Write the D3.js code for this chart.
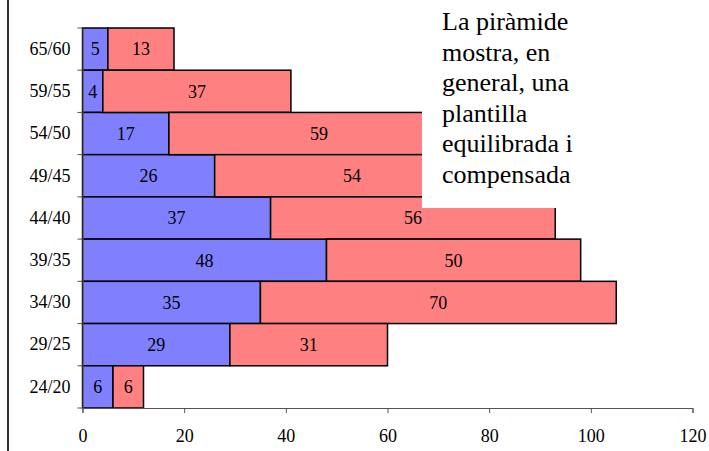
<!DOCTYPE html>
<html><head><meta charset="utf-8">
<script src="https://cdn.jsdelivr.net/npm/d3@7"></script>
<style>body{margin:0;background:#fff}svg{display:block}</style>
</head><body>
<script>
const categories = ["65/60","59/55","54/50","49/45","44/40","39/35","34/30","29/25","24/20"];
const blueValues = [5,4,17,26,37,48,35,29,6];
const redValues = [13,37,59,54,56,50,70,31,6];
const xTicks = [0,20,40,60,80,100,120];
const noteLines = ["La piràmide","mostra, en","general, una","plantilla","equilibrada i","compensada"];

const FONT="'Liberation Serif','Times New Roman',Times,serif";
const W=709,H=451;
const svg=d3.select("body").append("svg").attr("width",W).attr("height",H).attr("font-family",FONT);
const x=d3.scaleLinear().domain([0,120]).range([82.5,692.5]);
const y=d3.scaleBand().domain(categories).range([28,408]).padding(0);

svg.append("line").attr("x1",8).attr("x2",8).attr("y1",0).attr("y2",H).attr("stroke","#333").attr("stroke-width",2);

const rows=categories.map((c,i)=>({c,b:blueValues[i],r:redValues[i]}));
const g=svg.append("g");
g.selectAll("rect.b").data(rows).join("rect").attr("class","b")
 .attr("x",x(0)).attr("y",d=>y(d.c)).attr("width",d=>x(d.b)-x(0)).attr("height",y.bandwidth())
 .attr("fill","#8080ff").attr("stroke","#000").attr("stroke-width",1.5);
g.selectAll("rect.r").data(rows).join("rect").attr("class","r")
 .attr("x",d=>x(d.b)).attr("y",d=>y(d.c)).attr("width",d=>x(d.b+d.r)-x(d.b)).attr("height",y.bandwidth())
 .attr("fill","#ff8080").attr("stroke","#000").attr("stroke-width",1.5);
g.selectAll("text.bl").data(rows).join("text").attr("class","bl")
 .attr("x",d=>(x(0)+x(d.b))/2).attr("y",d=>y(d.c)+y.bandwidth()/2).attr("dy","0.35em")
 .attr("text-anchor","middle").attr("font-size",18).attr("font-family",FONT).text(d=>d.b);
g.selectAll("text.rl").data(rows).join("text").attr("class","rl")
 .attr("x",d=>(x(d.b)+x(d.b+d.r))/2).attr("y",d=>y(d.c)+y.bandwidth()/2).attr("dy","0.35em")
 .attr("text-anchor","middle").attr("font-size",18).attr("font-family",FONT).text(d=>d.r);

const xa=svg.append("g").attr("transform","translate(0,408)")
 .call(d3.axisBottom(x).tickValues(xTicks).tickSize(5).tickPadding(16).tickFormat(d3.format("d")));
xa.select(".domain").attr("stroke","#555");
xa.selectAll(".tick line").attr("stroke","#555");
xa.selectAll("text").attr("font-size",18).attr("fill","#000").attr("font-family",FONT);

const ya=svg.append("g").attr("transform","translate(82.5,0)")
 .call(d3.axisLeft(y).tickSize(0).tickPadding(12).tickSizeOuter(0));
ya.select(".domain").attr("stroke","#555");
ya.selectAll("text").attr("font-size",18).attr("fill","#000").attr("font-family",FONT);
const bounds=categories.map(c=>y(c)).concat([y.range()[1]]);
ya.selectAll("line.bt").data(bounds).join("line").attr("class","bt")
 .attr("x1",-5).attr("x2",0).attr("y1",d=>d).attr("y2",d=>d).attr("stroke","#555");

svg.append("rect").attr("x",422).attr("y",0).attr("width",220).attr("height",208).attr("fill","#fff");
svg.append("g").selectAll("text").data(noteLines).join("text")
 .attr("x",442).attr("y",(d,i)=>30+i*30.6).attr("font-size",26).attr("font-family",FONT).attr("fill","#000").text(d=>d);
</script>
</body></html>
